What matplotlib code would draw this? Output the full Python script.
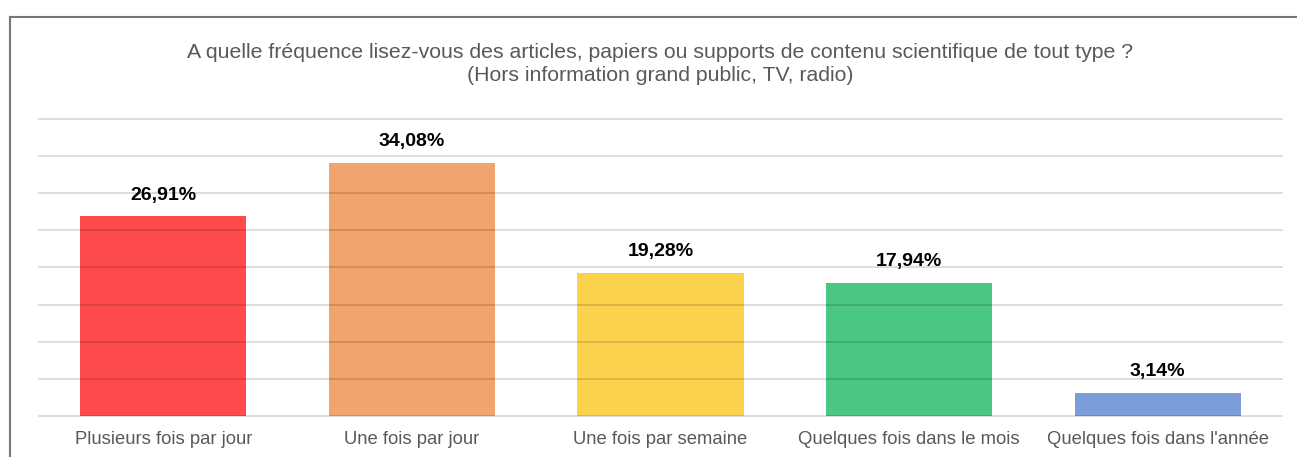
import matplotlib.pyplot as plt
import numpy as np

plt.rcParams['font.family'] = ['Liberation Sans', 'DejaVu Sans']

categories = ["Plusieurs fois par jour", "Une fois par jour", "Une fois par semaine",
              "Quelques fois dans le mois", "Quelques fois dans l'année"]
values = [26.91, 34.08, 19.28, 17.94, 3.14]
colors = ["#FF4B4B", "#F2A46E", "#FCD14C", "#4BC683", "#7B9ED8"]

fig = plt.figure(figsize=(12.97, 4.57), dpi=100)
ax = fig.add_axes([0.0301, 0.0897, 0.9583, 0.65])

x = np.arange(len(categories))
ax.bar(x, values, width=0.668, color=colors, zorder=1)

# light gridlines, drawn over the bars
for y in range(0, 41, 5):
    ax.axhline(y, color="black", alpha=0.14, lw=1.3, zorder=2, clip_on=False)

for xi, v in zip(x, values):
    ax.text(xi, v + 1.7, f"{v:.2f}%".replace(".", ","), ha="center", va="bottom",
            fontsize=14, fontweight="bold", color="black")

ax.set_xlim(-0.5, 4.5)
ax.set_ylim(0, 40)
ax.set_xticks(x)
ax.set_xticklabels(categories, fontsize=13.3, color="#595959")
ax.tick_params(axis="x", length=0, pad=11)
ax.set_yticks([])
for s in ax.spines.values():
    s.set_visible(False)

fig.text(0.509, 0.860, "A quelle fréquence lisez-vous des articles, papiers ou supports de contenu scientifique de tout type ?\n(Hors information grand public, TV, radio)",
         ha="center", va="center", fontsize=15.3, color="#595959", linespacing=1.32)

# outer frame (left and top edges)
fig.add_artist(plt.Line2D([10 / 1297, 10 / 1297], [0, 1 - 17 / 457], color="#777777", lw=1.5,
                          transform=fig.transFigure))
fig.add_artist(plt.Line2D([10 / 1297, 1], [1 - 17 / 457, 1 - 17 / 457], color="#777777", lw=1.5,
                          transform=fig.transFigure))

fig.savefig("out.png", dpi=100)
